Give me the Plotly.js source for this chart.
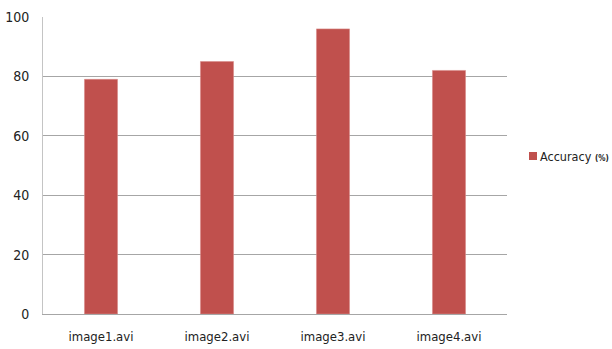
<!DOCTYPE html>
<html>
<head>
<meta charset="utf-8">
<script src="https://cdn.plot.ly/plotly-3.0.1.min.js"></script>
<style>
  html, body { margin: 0; padding: 0; background: #fff; }
  #chart { width: 612px; height: 349px; }
</style>
</head>
<body>
<div id="chart"></div>
<script>
// Recognition accuracy per video clip
const categories = ["image1.avi", "image2.avi", "image3.avi", "image4.avi"];
const accuracy = [79, 85, 96, 82];
const yTicks = [0, 20, 40, 60, 80, 100];
const seriesName = "Accuracy";
const seriesUnit = "(%)";

const font = "'DejaVu Sans Condensed', 'Liberation Sans Narrow', 'Roboto', sans-serif";
const barColor = "#C0504D";

const trace = {
  type: "bar",
  x: categories,
  y: accuracy,
  name: seriesName + " " + seriesUnit,
  marker: { color: barColor, line: { color: "#D98A88", width: 0.6 } },
  hoverinfo: "x+y",
  showlegend: false
};

// Plot area fills 464px of the 569px wide region to the right of the y labels;
// the legend key sits in the remaining strip.
const domainRight = 464 / 569;

const layout = {
  width: 612,
  height: 349,
  margin: { l: 43, r: 0, t: 17, b: 35 },
  paper_bgcolor: "#ffffff",
  plot_bgcolor: "#ffffff",
  font: { family: font, size: 13, color: "#222222" },
  bargap: 0.715,
  showlegend: false,
  xaxis: {
    type: "category",
    domain: [0, domainRight],
    showline: true,
    linecolor: "#A6A6A6",
    linewidth: 1,
    ticks: "",
    showgrid: false,
    tickfont: { family: font, size: 13, color: "#222222" },
    ticklabelstandoff: 10
  },
  yaxis: {
    range: [0, 100],
    tickvals: yTicks,
    ticktext: yTicks.map(String),
    showline: true,
    linecolor: "#C4C4C4",
    linewidth: 1,
    showgrid: true,
    gridcolor: "#A6A6A6",
    gridwidth: 1,
    zeroline: false,
    ticks: "",
    ticklabelstandoff: 10,
    tickfont: { family: font, size: 14, color: "#222222" }
  },
  // Legend key: colour swatch plus series label
  shapes: [{
    type: "rect", xref: "paper", yref: "paper",
    x0: (529 - 43) / 569, x1: (537 - 43) / 569,
    y0: (314 - 160) / 297, y1: (314 - 152) / 297,
    fillcolor: barColor, line: { width: 0 }
  }],
  annotations: [{
    xref: "paper", yref: "paper",
    x: (538 - 43) / 569, y: (314 - 156) / 297,
    xanchor: "left", yanchor: "middle", showarrow: false,
    text: seriesName + " <b><span style='font-size:8px'>" + seriesUnit + "</span></b>",
    font: { family: font, size: 12.5, color: "#222222" }
  }]
};

Plotly.newPlot("chart", [trace], layout, { displayModeBar: false, staticPlot: true });
</script>
</body>
</html>
